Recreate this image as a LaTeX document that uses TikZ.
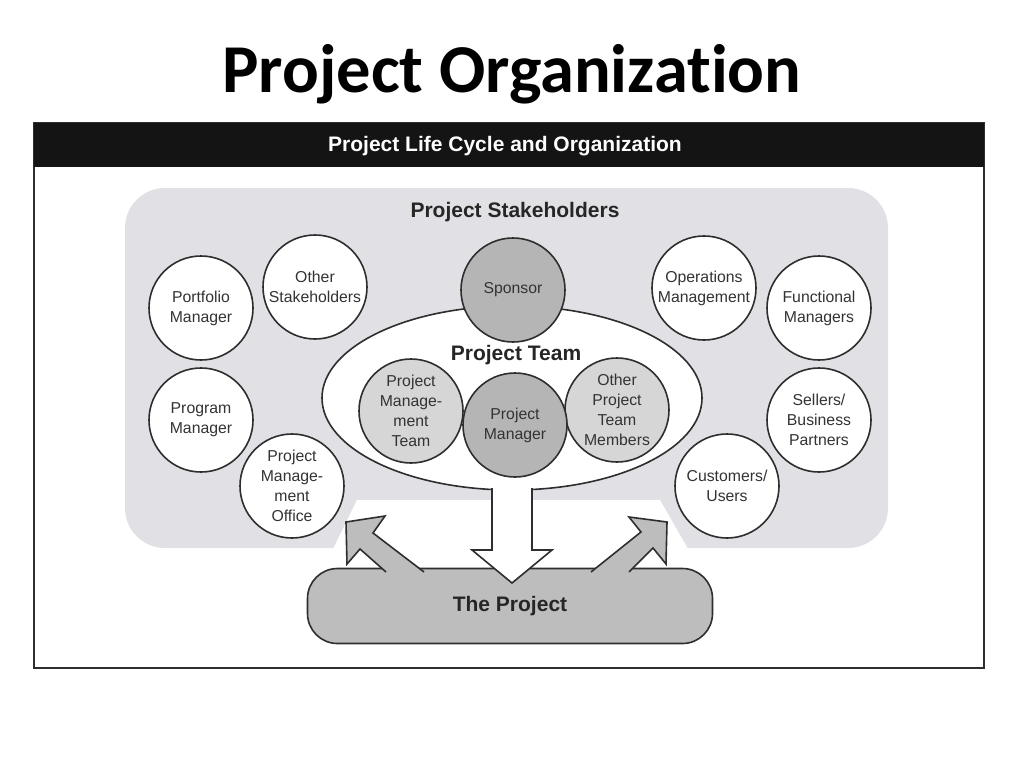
\documentclass[tikz,border=0pt]{standalone}
\usepackage{fontspec}
\setmainfont{Liberation Sans}
\newfontfamily\titlefont[Ligatures={NoCommon}]{Carlito}
\usetikzlibrary{shapes.geometric}

\definecolor{outline}{HTML}{2E2E2E}
\definecolor{stakegray}{HTML}{E1E1E5}
\definecolor{darkfill}{HTML}{B5B5B5}
\definecolor{lightfill}{HTML}{D6D6D6}
\definecolor{projfill}{HTML}{BDBDBD}
\definecolor{labeltext}{HTML}{333333}

\begin{document}
\begin{tikzpicture}[x=1pt, y=-1pt,
    circ/.style={circle, draw=outline, line width=1.6pt, fill=white, minimum size=104pt,
                 inner sep=0pt, align=center, text=labeltext, font=\fontsize{15.8}{20}\selectfont},
    heading/.style={font=\fontsize{21}{23}\selectfont\bfseries, text=black!85},
    blockarrow/.style={draw=outline, line width=1.6pt, line join=miter}]
    \useasboundingbox (0,0) rectangle (1024,768);
    \fill[white] (0,0) rectangle (1024,768);

    % Title
    \node (title) at (512,74) {\titlefont\fontsize{68.5}{72}\selectfont\bfseries Project Organization};

    % Frame and header bar
    \draw[line width=2.2pt, outline] (34,123) rectangle (984,668);
    \fill[black!92] (34,123) rectangle (984,167);
    \node[text=white, font=\fontsize{21}{23}\selectfont\bfseries] (header) at (505,146) {Project Life Cycle and Organization};

    % Stakeholder area, notched for the project
    \fill[stakegray, rounded corners=40pt] (125,188) rectangle (888,548);
    \fill[white] (333,549) -- (357,500) -- (660,500) -- (688,549) -- cycle;

    % Project team
    \node[ellipse, draw=outline, line width=1.6pt, fill=white, minimum width=380pt,
          minimum height=184pt, inner sep=0pt] (team) at (512,398) {};

    % The project
    \node[draw=outline, line width=1.6pt, fill=projfill, rounded corners=30pt, minimum width=405pt,
          minimum height=75pt, heading] (project) at (510,606) {The Project};

    % Arrows out of the project and down from the team
    \filldraw[blockarrow, fill=projfill] (386,572) -- (360,549) -- (347,564) -- (346,522) -- (385,516) -- (373,533) -- (424,572);
    \filldraw[blockarrow, fill=projfill] (629,572) -- (653,548) -- (666,564) -- (667,522) -- (629,517) -- (641,532) -- (591,572);
    \filldraw[blockarrow, fill=white] (492,488) -- (492,550) -- (472,550) -- (512,583) -- (552,550) -- (532,550) -- (532,488);

    % Stakeholders
    \foreach \name/\x/\y/\txt in {
        portfolio/201/308/{Portfolio\\Manager},
        other/315/287/{Other\\Stakeholders},
        operations/704/288/{Operations\\Management},
        functional/819/308/{Functional\\Managers},
        program/201/420/{Program\\Manager},
        pmo/292/486/{Project\\Manage-\\ment\\Office},
        sellers/819/420/{Sellers/\\Business\\Partners},
        customers/727/486/{Customers/\\Users}}
      \node[circ] (\name) at (\x,\y) {\txt};

    % Team members
    \node[circ, fill=darkfill] (sponsor) at (513,290) {Sponsor};
    \node[circ, fill=lightfill] (pmteam) at (411,411) {Project\\Manage-\\ment\\Team};
    \node[circ, fill=lightfill] (others) at (617,410) {Other\\Project\\Team\\Members};
    \node[circ, fill=darkfill] (manager) at (515,425) {Project\\Manager};

    % Headings
    \node[heading] (stakelabel) at (515,212) {Project Stakeholders};
    \node[heading] (teamlabel) at (516,355) {Project Team};
\end{tikzpicture}
\end{document}
